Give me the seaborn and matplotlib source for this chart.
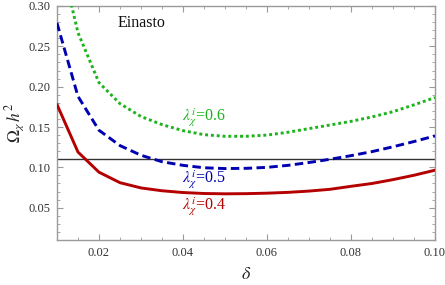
import matplotlib
matplotlib.use("Agg")
import matplotlib.pyplot as plt
import seaborn as sns
import pandas as pd
from matplotlib.ticker import MultipleLocator

# ---- data ----
delta = [0.010, 0.015, 0.020, 0.025, 0.030, 0.035, 0.040, 0.045, 0.050, 0.055,
         0.060, 0.065, 0.070, 0.075, 0.080, 0.085, 0.090, 0.095, 0.100]
omega_l04 = [0.178, 0.119, 0.094, 0.081, 0.0745, 0.071, 0.0688, 0.0676, 0.0672, 0.0674,
             0.068, 0.069, 0.0706, 0.0728, 0.0765, 0.080, 0.0848, 0.0902, 0.0965]
omega_l05 = [0.279, 0.188, 0.146, 0.127, 0.115, 0.107, 0.1025, 0.0995, 0.0985, 0.0988,
             0.100, 0.1025, 0.106, 0.110, 0.1145, 0.1195, 0.1255, 0.132, 0.139]
omega_l06 = [0.377, 0.267, 0.205, 0.179, 0.163, 0.153, 0.1455, 0.1405, 0.1385, 0.1385,
             0.140, 0.1435, 0.148, 0.1525, 0.157, 0.1625, 0.169, 0.1775, 0.1865]
omega_obs = 0.11
labels = [r"$\lambda^{i}_{\chi}$=0.4", r"$\lambda^{i}_{\chi}$=0.5", r"$\lambda^{i}_{\chi}$=0.6"]
profile = "Einasto"

df = pd.DataFrame({"delta": delta, "l04": omega_l04, "l05": omega_l05, "l06": omega_l06})

sns.set_style("ticks")
plt.rcParams['font.family'] = ['Liberation Serif', 'DejaVu Serif']
plt.rcParams['mathtext.fontset'] = 'stix'

fig = plt.figure(figsize=(4.45, 2.85), dpi=100)
ax = fig.add_axes([0.128, 0.158, 0.8495, 0.821])

red, blue, green = "#b40000", "#0000b0", "#1cb41c"

ax.axhline(omega_obs, color="#333333", lw=1.0, zorder=1)
sns.lineplot(data=df, x="delta", y="l04", ax=ax, color=red, lw=2.1, zorder=3)
sns.lineplot(data=df, x="delta", y="l05", ax=ax, color=blue, lw=2.1,
             linestyle=(0, (2.9, 1.5)), dash_capstyle="butt", zorder=3)
sns.lineplot(data=df, x="delta", y="l06", ax=ax, color=green, lw=2.1,
             linestyle=(0, (1.0, 1.0)), dash_capstyle="butt", zorder=3)

ax.set_xlim(0.01, 0.10)
ax.set_ylim(0.01, 0.30)
ax.xaxis.set_major_locator(MultipleLocator(0.02))
ax.xaxis.set_minor_locator(MultipleLocator(0.005))
ax.yaxis.set_major_locator(MultipleLocator(0.05))
ax.yaxis.set_minor_locator(MultipleLocator(0.01))
ax.xaxis.set_major_formatter(matplotlib.ticker.FormatStrFormatter("%.2f"))
ax.yaxis.set_major_formatter(matplotlib.ticker.FormatStrFormatter("%.2f"))

for sp in ax.spines.values():
    sp.set_color("#9a9a9a")
    sp.set_linewidth(1.0)
    sp.set_visible(True)
ax.tick_params(which="both", direction="in", top=True, right=True,
               color="#9a9a9a", labelsize=9, labelcolor="#333333")
ax.tick_params(which="major", length=4, width=0.8, pad=5)
ax.tick_params(which="minor", length=2, width=0.6)

ax.set_xlabel(r"$\delta$", fontsize=13, labelpad=5)
ax.set_ylabel(r"$\Omega_{\chi}\,h^{2}$", fontsize=12.5)
ax.yaxis.set_label_coords(-0.078, 0.5)

ax.text(0.161, 0.927, profile, transform=ax.transAxes, fontsize=11.5,
        va="center", ha="left", color="#111111")
ax.text(0.331, 0.141, labels[0], transform=ax.transAxes, fontsize=11.5,
        va="center", ha="left", color=red)
ax.text(0.331, 0.256, labels[1], transform=ax.transAxes, fontsize=11.5,
        va="center", ha="left", color=blue)
ax.text(0.331, 0.521, labels[2], transform=ax.transAxes, fontsize=11.5,
        va="center", ha="left", color=green)

fig.savefig("out.png", dpi=100)
